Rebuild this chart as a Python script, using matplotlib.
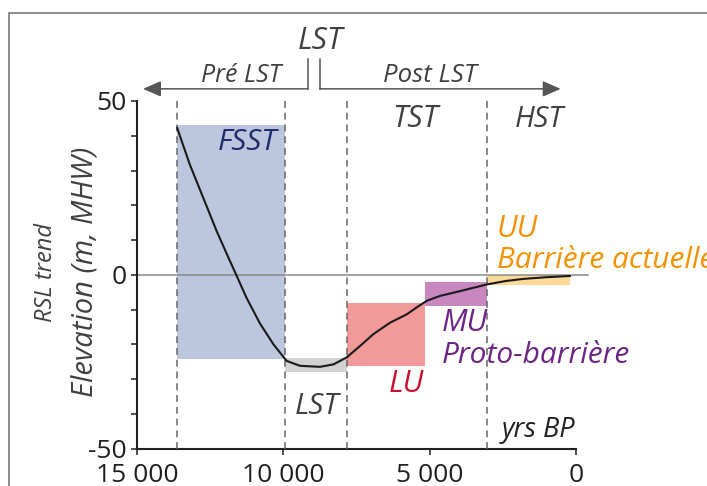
import matplotlib
matplotlib.use("Agg")
import matplotlib.pyplot as plt
from matplotlib.patches import Rectangle

plt.rcParams['font.family'] = ['Open Sans', 'DejaVu Sans']
plt.rcParams['axes.unicode_minus'] = False

# ---- data ----
curve_years = [13630, 13190, 12730, 12280, 11880, 11600, 11260, 10800, 10340, 10114,
               9885, 9430, 8750, 8290, 7836, 7380, 6925, 6355, 5785, 5443,
               5100, 4650, 3960, 3050, 2400, 1810, 1000, 200]
curve_values = [42.3, 31.6, 22.0, 12.6, 5.0, -0.2, -6.6, -14.0, -20.0, -22.4,
                -24.8, -26.2, -26.5, -25.8, -23.8, -20.5, -17.1, -13.8, -11.4, -9.4,
                -7.5, -6.1, -4.7, -2.8, -1.8, -1.2, -0.7, -0.35]

unit_names = ['FSST', 'LST', 'LU', 'MU', 'UU']
unit_start = [13630, 9950, 7830, 5150, 3040]
unit_end = [9950, 7830, 5150, 3040, 200]
unit_top = [43.1, -24.0, -8.1, -2.2, 0.0]
unit_bottom = [-24.3, -28.1, -26.4, -8.9, -2.9]
unit_colors = ['#bcc6de', '#d2d2d2', '#f29a99', '#c987bf', '#fcd899']

phase_bounds = [13630, 9950, 7830, 3040]

x_ticks = [15000, 10000, 5000, 0]
x_ticklabels = ['15 000', '10 000', '5 000', '0']
y_major = [50, 0, -50]
y_minor = [40, 30, 20, 10, -10, -20, -30, -40]

GREY = '#404040'
AXC = '#231f20'

fig = plt.figure(figsize=(7.07, 4.86), dpi=100)
ax = fig.add_axes([137/707, (486-448.5)/486, (576-137)/707, (448.5-101)/486])
ax.set_xlim(15000, 0)
ax.set_ylim(-50, 50)

# frame border
fig.add_artist(Rectangle((9/707, -0.2), 1.5, 1.2 - 13/486, transform=fig.transFigure,
                         fill=False, ec='#6d6d6d', lw=1.1))

# unit rectangles
for s, e, t, b, c in zip(unit_start, unit_end, unit_top, unit_bottom, unit_colors):
    ax.bar(e, t - b, width=s - e, bottom=b, align='edge', color=c, lw=0, zorder=1)

# zero line
ax.plot([15000, -400], [0, 0], color='#8a8a8a', lw=1.1, zorder=2, clip_on=False)

# phase boundaries
for xb in phase_bounds:
    ax.plot([xb, xb], [-50, 50], color='#666666', lw=1.1, dashes=(4.5, 3.2), zorder=3, clip_on=False)

# RSL curve
ax.plot(curve_years, curve_values, color='#1a1a1a', lw=1.5, zorder=4,
        solid_capstyle='round', solid_joinstyle='round')

# axes styling
for side in ['top', 'right']:
    ax.spines[side].set_visible(False)
for side in ['left', 'bottom']:
    ax.spines[side].set_linewidth(1.5)
    ax.spines[side].set_color(AXC)
ax.set_xticks(x_ticks)
ax.set_xticklabels(x_ticklabels)
ax.set_yticks(y_major)
ax.set_yticks(y_minor, minor=True)
ax.tick_params(axis='both', which='both', direction='out', length=4.5, width=1.1, color=AXC,
               labelsize=19, labelcolor=AXC)
ax.tick_params(axis='y', which='major', pad=3)
ax.tick_params(axis='x', which='major', pad=6)
ax.patch.set_alpha(0)

# top arrows
arr_y = 53.5
ax.annotate('', xy=(14795, arr_y), xytext=(9158, arr_y), annotation_clip=False,
            arrowprops=dict(arrowstyle='-|>,head_length=0.55,head_width=0.24', mutation_scale=20,
                            color='#555555', lw=1.1, shrinkA=0, shrinkB=0))
ax.annotate('', xy=(524, arr_y), xytext=(8748, arr_y), annotation_clip=False,
            arrowprops=dict(arrowstyle='-|>,head_length=0.55,head_width=0.24', mutation_scale=20,
                            color='#555555', lw=1.1, shrinkA=0, shrinkB=0))
ax.plot([9158, 9158], [arr_y, 62.0], color='#555555', lw=1.1, clip_on=False)
ax.plot([8748, 8748], [arr_y, 62.0], color='#555555', lw=1.1, clip_on=False)

it = dict(style='italic', va='baseline')
ax.text(8747, 64.9, 'LST', fontsize=22, color=GREY, ha='center', **it)
ax.text(11430, 55.4, 'Pré LST', fontsize=18, color=GREY, ha='center', **it)
ax.text(5006, 55.4, 'Post LST', fontsize=18.5, color=GREY, ha='center', **it)
ax.text(5500, 42.4, 'TST', fontsize=22, color=GREY, ha='center', **it)
ax.text(1264, 42.4, 'HST', fontsize=21, color=GREY, ha='center', **it)
ax.text(10216, 35.8, 'FSST', fontsize=21.5, color='#1f2d6b', ha='right', **it)
ax.text(8866, -40.1, 'LST', fontsize=21.5, color=GREY, ha='center', **it)
ax.text(5808, -33.8, 'LU', fontsize=22, color='#c8102e', ha='center', **it)
ax.text(4588, -16.2, 'MU', fontsize=22, color='#6b2585', ha='left', **it)
ax.text(4588, -25.3, 'Proto-barrière', fontsize=21.5, color='#6b2585', ha='left', **it)
ax.text(2709, 11.0, 'UU', fontsize=22, color='#f39200', ha='left', **it)
ax.text(2709, 1.9, 'Barrière actuelle', fontsize=21.5, color='#f39200', ha='left', **it)
ax.text(2538, -46.6, 'yrs BP', fontsize=19.5, color=AXC, ha='left', **it)

fig.text(46/707, 1 - 272/486, 'RSL trend', rotation=90, fontsize=17, style='italic',
         color=GREY, ha='center', va='center')
fig.text(85/707, 1 - 272/486, 'Elevation (m, MHW)', rotation=90, fontsize=21, style='italic',
         color=GREY, ha='center', va='center')

fig.savefig('out.png', dpi=100)
